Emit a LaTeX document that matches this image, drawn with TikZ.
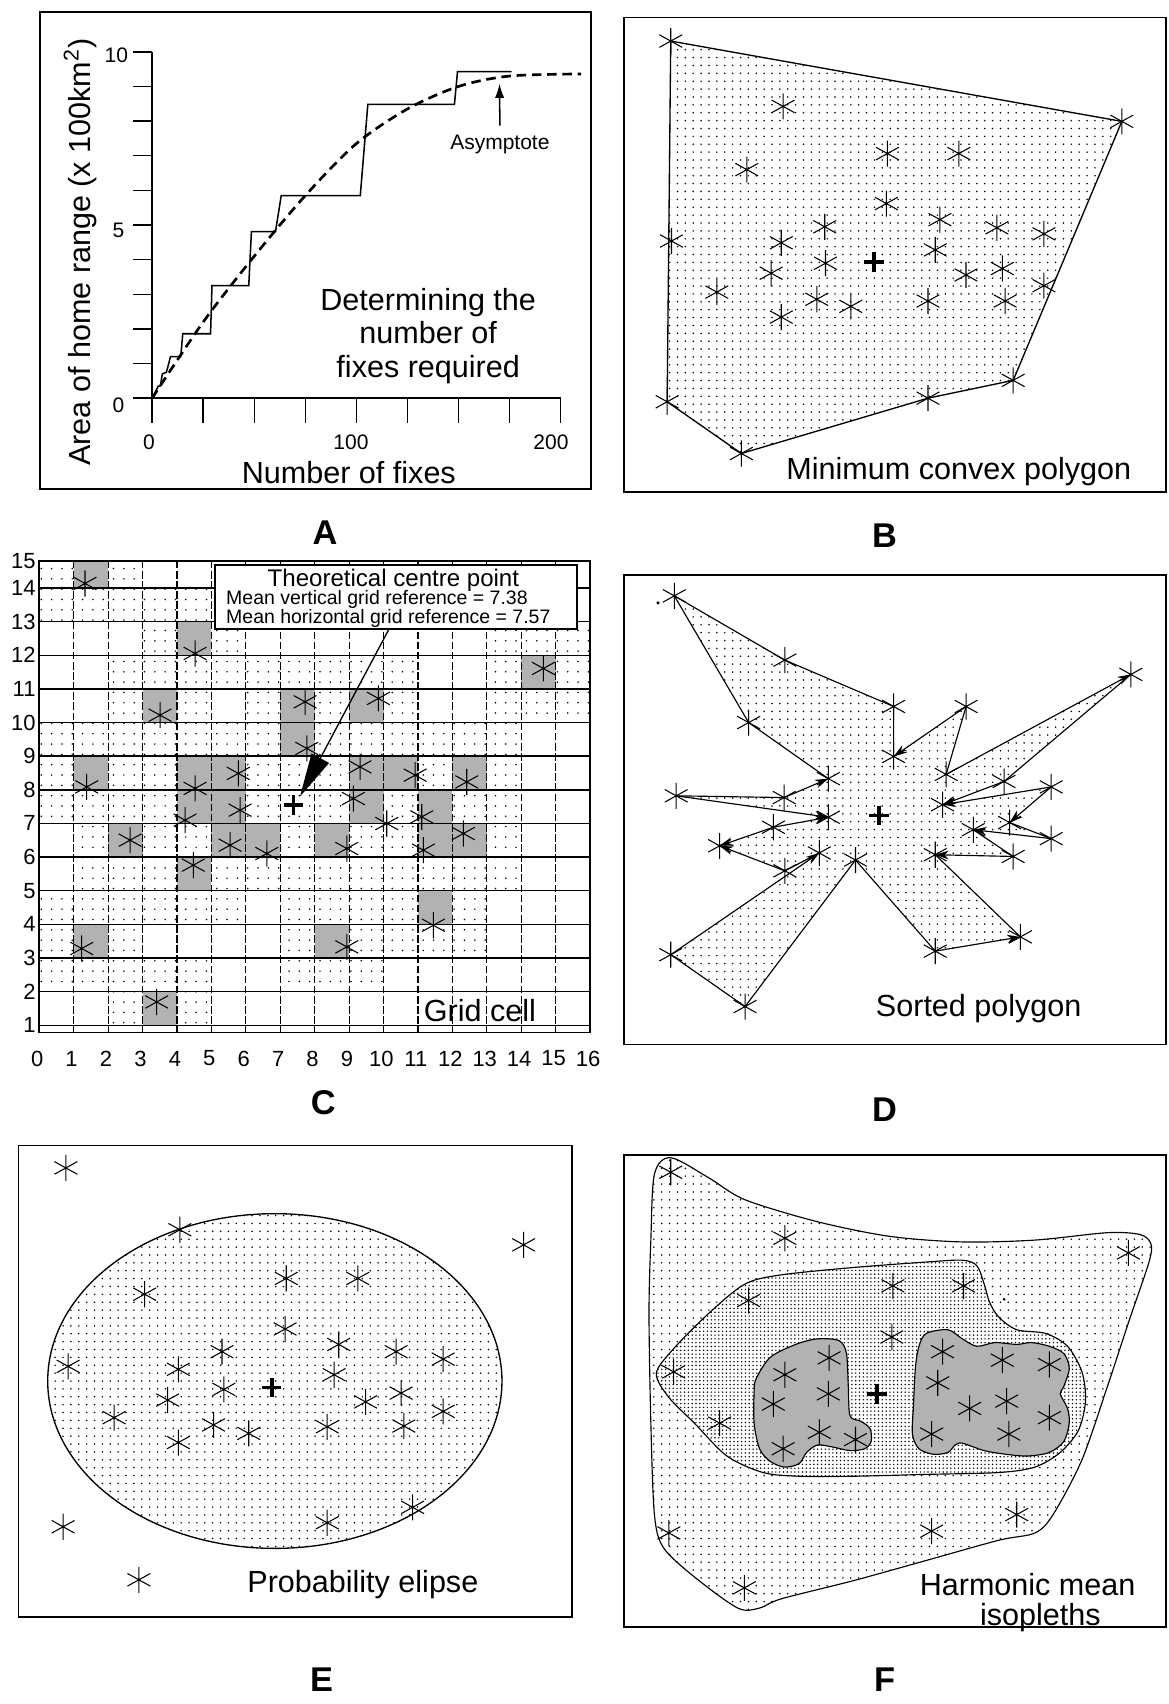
\documentclass[tikz,border=0pt]{standalone}
\usepackage{fontspec}
\setmainfont{Liberation Sans}
\usetikzlibrary{patterns.meta,arrows.meta}
\tikzset{
  fixmark/.pic={\draw[line width=0.55pt] (0,-12)--(0,12) (-10.5,-5.8)--(10.5,5.8) (-10.5,5.8)--(10.5,-5.8);},
  centremark/.pic={\draw[line width=1.9pt] (-9,0)--(9,0) (0,-9)--(0,9);},
  panelframe/.style={draw, line width=0.9pt},
  lightdots/.style={pattern={Dots[distance=0.145cm, radius=0.45pt]}, pattern color=black},
  middots/.style={pattern={Dots[distance=0.07cm, radius=0.42pt]}, pattern color=black},
  celldots/.style={pattern={Dots[distance=0.19cm, radius=0.45pt]}, pattern color=black},
  darkcell/.style={fill=black!30},
  bigtext/.style={font=\fontsize{16}{19}\selectfont, inner sep=0pt},
  ticktext/.style={font=\fontsize{11}{13}\selectfont, inner sep=0pt},
  gridnum/.style={font=\fontsize{11.5}{13}\selectfont, inner sep=0pt},
  boxtitle/.style={font=\fontsize{12.6}{14}\selectfont, inner sep=0pt},
  boxline/.style={font=\fontsize{10.2}{12}\selectfont, inner sep=0pt},
  letter/.style={font=\fontsize{18}{20}\selectfont\bfseries, inner sep=0pt},
  edge/.style={line width=0.6pt},
  darr/.style={line width=0.6pt, -{Stealth[length=7pt,width=4.5pt]}},
  gridh/.style={line width=0.75pt},
  gridv/.style={line width=0.6pt, dash pattern=on 4pt off 1.3pt},
}
\begin{document}
\begin{tikzpicture}[x=0.02cm,y=-0.02cm]
\fill[white] (0,0) rectangle (1075,1568);
\useasboundingbox (0,0) rectangle (1075,1568);

%%%%%%%%%%%%%%%% Panel A
\draw[panelframe] (37,11) rectangle (544,450);
\begin{scope}[shift={(140,366.4)},x=0.0376cm,y=0.6376cm]
  \draw[line width=0.9pt] (0,10) -- (0,0);
  \draw[line width=1.1pt] (-9.36,0) -- (200,0);
  \foreach \a in {1,...,10} \draw[line width=0.8pt] (-9.36,\a) -- (0,\a);
  \foreach \f in {0,25,...,200} \draw[line width=0.8pt] (\f,0) -- (\f,-0.71);
  \draw[line width=0.8pt] (0,0) -- (3,0.35) -- (4,0.35) -- (5,0.7) -- (7,0.75) -- (9,1.2) -- (14,1.2) -- (15,1.86) -- (28.6,1.86) -- (29.3,3.25) -- (47.3,3.25) -- (48.6,4.81) -- (60.4,4.81) -- (63.2,5.85) -- (101.9,5.85) -- (105.6,8.48) -- (148,8.48) -- (149.5,9.43) -- (176,9.43);
  \draw[line width=1.4pt, dash pattern=on 5pt off 3pt] plot[smooth] coordinates {(0,0) (25,2.2) (50,4.1) (75,5.85) (100,7.35) (125,8.35) (150,9.0) (175,9.3) (210,9.36)};
\end{scope}
\node[ticktext] (a10) at (107,51) {10};
\node[ticktext] (a5) at (109,212) {5};
\node[ticktext] (a0) at (109,373) {0};
\node[ticktext] (ax0) at (137,407) {0};
\node[ticktext] (ax100) at (323,407) {100};
\node[ticktext] (ax200) at (507,407) {200};
\node[bigtext] (axlab) at (321,435) {Number of fixes};
\node[bigtext, rotate=90] (aylab) at (74,232) {Area of home range (x 100km\textsuperscript{2})};
\node[bigtext, align=center, font=\fontsize{16}{17.6}\selectfont] (adet) at (394,309) {Determining the\\number of\\fixes required};
\node[ticktext] (asy) at (460,133) {Asymptote};
\coordinate (asytip) at (459.6,77);
\draw[line width=0.8pt, -{Latex[length=0.26cm,width=0.17cm]}] ([yshift=0.17cm]asy.north) -- (asytip);
\node[letter] (la) at (299,490) {A};

%%%%%%%%%%%%%%%% Panel B
\draw[panelframe] (574,16) rectangle (1073,453);
\draw[lightdots, line width=0.7pt] (617.2,37.8) -- (1032.3,111.7) -- (932.3,350) -- (853.9,366.4) -- (682.2,417.3) -- (613.9,369.7) -- cycle;
\foreach \x/\y in {617.2/37.8, 1032.3/111.7, 932.3/350, 853.9/366.4, 682.2/417.3, 613.9/369.7, 617.9/221.8,
  720.6/97.9, 687.2/156.1, 816.6/141.3, 882.3/141.3, 815.6/187.3, 758.9/208.7, 864.9/202.1, 917.3/209.6,
  960.6/215.2, 718.9/223.4, 759.6/242.2, 860.6/230, 709.6/251.4, 888.9/253, 922.3/247.1, 659.6/268.8,
  751.6/275.4, 782.9/281.9, 853.9/277, 924.9/277, 960.6/262.9, 718.9/291.8}
  \pic at (\x,\y) {fixmark};
\pic at (804,240.9) {centremark};
\node[bigtext] (bt) at (882.3,433.8) {Minimum convex polygon};
\node[letter] (lb) at (814,493) {B};

%%%%%%%%%%%%%%%% Panel C
\foreach \c/\r in {0/14,2/14, 0/13,1/13,2/13,3/13,4/13, 3/12,5/12,13/12,14/12,15/12,
  2/11,3/11,4/11,5/11,6/11,7/11,8/11,9/11,10/11,13/11,15/11,
  2/10,4/10,6/10,8/10,10/10,13/10,14/10,15/10,
  0/9,1/9,2/9,3/9,4/9,5/9,6/9,8/9,9/9,10/9,11/9,12/9,13/9,
  0/8,2/8,3/8,6/8,7/8,8/8,11/8,13/8,
  0/7,1/7,2/7,3/7,6/7,7/7,8/7,10/7,12/7,13/7,
  1/6,3/6,4/6,7/6,9/6,10/6,13/6,
  1/5,2/5,3/5,5/5,6/5,7/5,8/5,9/5,10/5,11/5,12/5,13/5,
  0/4,1/4,2/4,3/4,4/4,5/4,7/4,8/4,9/4,10/4,12/4,
  0/3,2/3,7/3,9/3,10/3,11/3,12/3,
  0/2,1/2,2/2,3/2,4/2,7/2,8/2,9/2,
  2/1,4/1}{
  \pgfmathsetmacro\xa{36.2+31.68*\c}
  \pgfmathsetmacro\xb{\xa+31.68}
  \pgfmathsetmacro\ya{943.4-30.95*(\r-1)}
  \pgfmathsetmacro\yb{(\r==14)?516:(\ya-30.95)}
  \path[celldots] (\xa,\ya) rectangle (\xb,\yb);
}
\foreach \c/\r in {1/14, 4/12, 14/11, 3/10,7/10,9/10, 7/9, 1/8,4/8,5/8,9/8,10/8,12/8,
  4/7,5/7,9/7,11/7, 2/6,5/6,6/6,8/6,11/6,12/6, 4/5, 11/4, 1/3,8/3, 3/1}{
  \pgfmathsetmacro\xa{36.2+31.68*\c}
  \pgfmathsetmacro\xb{\xa+31.68}
  \pgfmathsetmacro\ya{943.4-30.95*(\r-1)}
  \pgfmathsetmacro\yb{(\r==14)?516:(\ya-30.95)}
  \path[darkcell] (\xa,\ya) rectangle (\xb,\yb);
}
\foreach \j in {1,...,14}{
  \pgfmathsetmacro\yy{943.4-30.95*(\j-1)}
  \draw[gridh] (36.2,\yy) -- (543.1,\yy);
  \node[gridnum, anchor=east] (rl\j) at (33,\yy) {\j};
}
\node[gridnum, anchor=east] (rl15) at (33,516) {15};
\foreach \i in {1,...,15}{
  \pgfmathsetmacro\xx{36.2+31.68*\i}
  \draw[gridv] (\xx,516) -- (\xx,950);
}
\foreach \i in {0,...,16}{
  \pgfmathsetmacro\xx{36.2+31.68*\i-2}
  \node[gridnum] (cl\i) at (\xx,974) {\i};
}
\draw[line width=0.9pt] (36.2,516) rectangle (543.1,950);
\foreach \x/\y in {78.2/536.9, 179.5/601.3, 147.3/658.1, 280.7/645.8, 282.3/688.7, 79.8/724.1,
  179.5/725.5, 219.3/711.7, 500/615.1, 348.2/642.7, 331.3/705.7, 382/713.3, 429.5/719.5,
  170.3/754.7, 220.9/745.5, 119.7/773.1, 211.7/777.7, 245.5/785.4, 177.9/796.1, 75.2/872.8,
  144.2/922, 325.2/734.8, 355.9/757.8, 388.1/751.7, 319.1/780.8, 389.6/782.3, 426.4/767,
  398.8/851.4, 319.1/871.3}
  \pic at (\x,\y) {fixmark};
\pic at (270,741) {centremark};
\node[draw, fill=white, line width=0.8pt, minimum width=6.66cm, minimum height=1.18cm, inner sep=0pt] (cbox) at (364.5,549.5) {};
\node[boxtitle] (ct1) at (362,533.8) {Theoretical centre point};
\node[boxline, anchor=west] (ct2) at (207.8,552) {Mean vertical grid reference = 7.38};
\node[boxline, anchor=west] (ct3) at (207.8,569) {Mean horizontal grid reference = 7.57};
\coordinate (ctip) at (276,733);
\draw[line width=0.7pt, -{Triangle[length=0.8cm,width=0.36cm]}] ([xshift=-0.14cm]cbox.south) -- (ctip);
\node[bigtext] (gc) at (441.6,929.6) {Grid cell};
\node[letter] (lc) at (297.5,1015) {C};

%%%%%%%%%%%%%%%% Panel D
\draw[panelframe] (574,529) rectangle (1073,961);
\coordinate (d1) at (620.5,548.3);
\coordinate (d2) at (722.2,607.4);
\coordinate (d3) at (822.3,650.1);
\coordinate (d4) at (822.3,696.1);
\coordinate (d5) at (889,650.1);
\coordinate (d6) at (870.6,712.6);
\coordinate (d7) at (1040.6,620.6);
\coordinate (d8) at (923.9,719.1);
\coordinate (d9) at (967.3,724.1);
\coordinate (d10) at (867.3,740.5);
\coordinate (d11) at (929,756.9);
\coordinate (d12) at (967.3,771.7);
\coordinate (d13) at (895.6,763.5);
\coordinate (d14) at (932.3,788.1);
\coordinate (d15) at (860.6,786.5);
\coordinate (d16) at (939,862.1);
\coordinate (d17) at (860.6,875.2);
\coordinate (d18) at (787.2,791.4);
\coordinate (d19) at (685.6,926.2);
\coordinate (d20) at (617.2,878.5);
\coordinate (d21) at (722.2,801.3);
\coordinate (d22) at (753.9,784.9);
\coordinate (d23) at (662.2,778.3);
\coordinate (d24) at (711.6,761.2);
\coordinate (d25) at (762.2,752);
\coordinate (d26) at (622.2,732.3);
\coordinate (d27) at (721.6,733.9);
\coordinate (d28) at (762.2,716.5);
\coordinate (d29) at (688.9,664.9);
\path[lightdots] (d1)--(d2)--(d3)--(d4)--(d5)--(d6)--(d7)--(d8)--(d10)--(d9)--(d11)--(d12)--(d13)--(d14)--(d15)--(d16)--(d17)--(d18)--(d19)--(d20)--(d22)--(d21)--(d23)--(d24)--(d25)--(d26)--(d27)--(d28)--(d29)--cycle;
\draw[edge] (d1)--(d2)--(d3)--(d4);
\draw[darr] (d5)--(d4);
\draw[edge] (d5)--(d6);
\draw[darr] (d6)--(d7);
\draw[edge] (d7)--(d8);
\draw[darr] (d8)--(d10);
\draw[darr] (d9)--(d10);
\draw[darr] (d9)--(d11);
\draw[edge] (d11)--(d12);
\draw[darr] (d12)--(d13);
\draw[edge] (d13)--(d14);
\draw[darr] (d14)--(d15);
\draw[edge] (d15)--(d16);
\draw[darr] (d17)--(d16);
\draw[edge] (d17)--(d18)--(d19)--(d20);
\draw[darr] (d20)--(d22);
\draw[edge] (d22)--(d21);
\draw[darr] (d21)--(d23);
\draw[darr] (d24)--(d23);
\draw[darr] (d24)--(d25);
\draw[darr] (d26)--(d25);
\draw[edge] (d26)--(d27);
\draw[darr] (d27)--(d28);
\draw[edge] (d28)--(d29)--(d1);
\foreach \n in {1,...,29} \pic at (d\n) {fixmark};
\fill (605.5,554.8) circle (1.6);
\pic at (808.9,750.4) {centremark};
\node[bigtext] (dt) at (900.6,927.8) {Sorted polygon};
\node[letter] (ld) at (814,1021) {D};

%%%%%%%%%%%%%%%% Panel E
\draw[panelframe] (17,1054) rectangle (526.5,1488);
\draw[lightdots, line width=0.7pt] (252.9,1270.8) ellipse [x radius=209, y radius=154];
\foreach \x/\y in {60.6/1074.7, 165.5/1131.6, 481.8/1145.5, 133.1/1190.9, 263.4/1176.4, 329.3/1176.4,
  262.4/1222.9, 204.3/1243.8, 311.7/1237.1, 364.5/1243.8, 407.8/1250.6, 62.7/1257.3, 164.1/1260,
  206/1278.5, 307.5/1265, 154.3/1288.3, 336.4/1290, 369.1/1281.9, 407.8/1298.7, 105/1304.5,
  196.5/1311.2, 228.9/1319, 301.1/1312.9, 371.6/1312.2, 164.1/1327.4, 379.7/1387, 301.1/1401.2,
  58.1/1404.9, 127.8/1453.7}
  \pic at (\x,\y) {fixmark};
\pic at (250,1276.8) {centremark};
\node[bigtext] (et) at (333.9,1457.8) {Probability elipse};
\node[letter] (le) at (296,1546) {E};

%%%%%%%%%%%%%%%% Panel F
\draw[panelframe] (574.5,1063) rectangle (1073,1497);
\draw[lightdots, line width=0.6pt] plot[smooth cycle, tension=0.5] coordinates {
  (617.2,1065.3) (652.2,1083.8) (685.6,1104) (752.2,1124.2) (818.9,1137.7) (885.6,1142.8)
  (952.3,1141.1) (1019,1134.3) (1049,1136) (1059,1144.4) (1057.3,1161.3) (1039,1215.2)
  (1019,1275.8) (995.6,1343.2) (969,1393.7) (952.3,1410.6) (919,1417.3) (852.3,1435.9)
  (785.6,1454.4) (718.9,1471.2) (698.9,1479.7) (678.9,1479.7) (638.9,1451) (610.5,1424.1)
  (602.2,1393.7) (598.9,1309.5) (597.2,1208.5) (598.9,1141.1) (602.2,1080.4)};
\path[fill=white] plot[smooth cycle, tension=0.5] coordinates {
  (603.9,1264) (618.9,1242.1) (652.2,1208.5) (685.6,1181.5) (718.9,1173.1) (785.6,1166.3)
  (852.3,1161.3) (885.6,1159.6) (898.9,1164.7) (905.6,1181.5) (910.6,1198.3) (918.9,1211.8)
  (935.6,1223.6) (962.3,1227) (982.3,1238.8) (995.6,1262.4) (998.9,1289.3) (992.3,1316.3)
  (975.6,1336.5) (952.3,1350) (919,1355) (852.3,1356.7) (785.6,1358.4) (735.6,1358.4)
  (702.2,1355) (668.9,1339.8) (638.9,1309.5) (615.5,1285.9)};
\draw[middots, line width=0.6pt] plot[smooth cycle, tension=0.5] coordinates {
  (603.9,1264) (618.9,1242.1) (652.2,1208.5) (685.6,1181.5) (718.9,1173.1) (785.6,1166.3)
  (852.3,1161.3) (885.6,1159.6) (898.9,1164.7) (905.6,1181.5) (910.6,1198.3) (918.9,1211.8)
  (935.6,1223.6) (962.3,1227) (982.3,1238.8) (995.6,1262.4) (998.9,1289.3) (992.3,1316.3)
  (975.6,1336.5) (952.3,1350) (919,1355) (852.3,1356.7) (785.6,1358.4) (735.6,1358.4)
  (702.2,1355) (668.9,1339.8) (638.9,1309.5) (615.5,1285.9)};
\draw[fill=black!30, line width=0.6pt] plot[smooth cycle, tension=0.5] coordinates {
  (695.6,1269.1) (708.9,1248.9) (732.2,1237.1) (752.2,1232) (772.2,1233.7) (778.9,1245.5)
  (780.6,1275.8) (782.2,1302.8) (792.2,1307.8) (800.6,1314.6) (801.6,1326.4) (795.6,1333.1)
  (782.2,1334.8) (765.6,1331.4) (752.2,1329.7) (742.2,1336.5) (735.6,1346.6) (722.2,1350)
  (708.9,1344.9) (698.9,1333.1) (693.9,1309.5) (693.9,1282.6)};
\draw[fill=black!30, line width=0.6pt] plot[smooth cycle, tension=0.5] coordinates {
  (852.3,1227) (872.3,1223.6) (885.6,1232) (898.9,1238.8) (915.6,1235.4) (935.6,1237.1)
  (948.9,1235.4) (965.6,1238.8) (978.9,1245.5) (983.9,1259) (978.9,1275.8) (975.6,1282.6)
  (982.3,1296) (983.9,1309.5) (978.9,1326.4) (965.6,1336.5) (945.6,1339.8) (925.6,1338.2)
  (905.6,1334.8) (885.6,1328) (878.9,1329.7) (872.3,1336.5) (859,1338.2) (845.6,1333.1)
  (839.6,1319.6) (840.6,1292.7) (842.3,1259) (845.6,1238.8)};
\foreach \x/\y in {617.2/1078.7, 722.2/1139.4, 1038.3/1152.9, 688.9/1196.7, 821.6/1183.2, 886.6/1183.2,
  820.6/1230.3, 619.9/1262.4, 762.9/1249.5, 722.2/1265, 762.2/1282.6, 711.6/1292, 753.9/1318,
  787.2/1324.7, 720.6/1333.1, 662.2/1309.5, 867.3/1243.8, 922.3/1251.6, 965.6/1255.6, 862.9/1272.5,
  892.3/1296, 926.3/1289.3, 965.6/1304.5, 857.3/1319.6, 928.3/1319.6, 935.6/1393.7, 857.3/1408.9,
  615.5/1410.6, 684.9/1461.1}
  \pic at (\x,\y) {fixmark};
\fill (924,1195.6) circle (1.4);
\pic at (807.2,1282.6) {centremark};
\node[bigtext] (ft1) at (945.6,1457.8) {Harmonic mean};
\node[bigtext] (ft2) at (957.3,1488.1) {isopleths};
\node[letter] (lf) at (814,1546) {F};
\end{tikzpicture}
\end{document}
